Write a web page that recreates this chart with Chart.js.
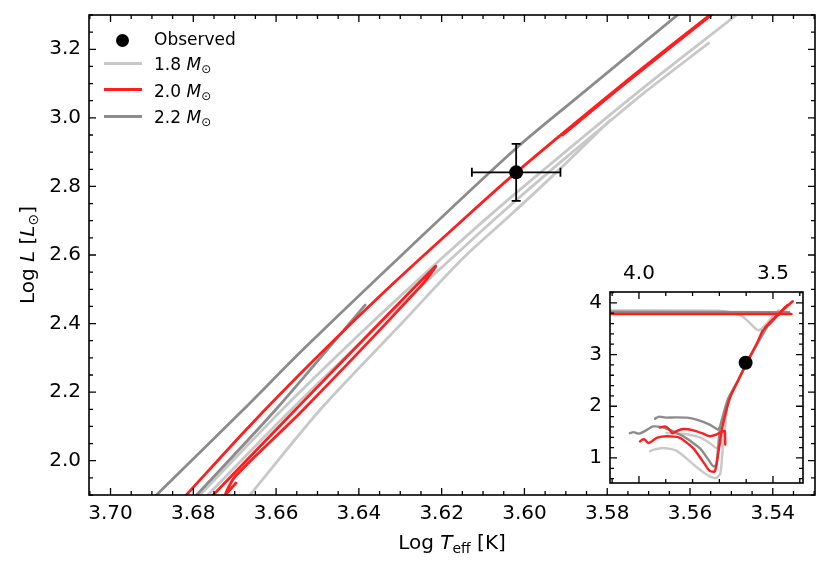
<!DOCTYPE html>
<html>
<head>
<meta charset="utf-8">
<title>HR diagram tracks</title>
<script src="https://cdn.jsdelivr.net/npm/chart.js@4.4.1/dist/chart.umd.min.js"></script>
<style>
  html, body { margin:0; padding:0; background:#fff; }
  #wrap { position:relative; width:830px; height:572px; overflow:hidden; font-family:"DejaVu Sans", sans-serif; color:#000; }
  #mainCanvas { position:absolute; left:0; top:0; }
  #insetHolder { position:absolute; left:560px; top:250px; width:260px; height:245px; }
  .txt { position:absolute; white-space:nowrap; line-height:20px; }
  .leg { font-size:17px; left:154px; }
  .sw { position:absolute; left:104px; width:38px; height:3px; }
  .dot { position:absolute; left:116px; top:33.5px; width:13px; height:13px; border-radius:50%; background:#000; }
  sub { font-size:0.7em; line-height:0; vertical-align:-0.25em; font-style:normal; }
  #xtitle { font-size:20px; left:89px; width:726px; text-align:center; top:532px; }
  #ytitle { font-size:20px; left:-213px; width:480px; text-align:center; top:245px; transform:rotate(-90deg); transform-origin:50% 50%; }
</style>
</head>
<body>
<div id="wrap">
  <canvas id="mainCanvas" width="830" height="572"></canvas>
  <div id="insetHolder"><canvas id="insetCanvas" width="260" height="245"></canvas></div>

  <div class="dot"></div>
  <div class="txt leg" style="top:29px;">Observed</div>
  <div class="sw" style="top:62px;background:#c8c8c8;"></div>
  <div class="txt leg" style="top:54px;">1.8 <i>M</i><sub>⊙</sub></div>
  <div class="sw" style="top:88px;background:#ff1e1e;"></div>
  <div class="txt leg" style="top:81px;">2.0 <i>M</i><sub>⊙</sub></div>
  <div class="sw" style="top:114.5px;background:#8c8c8c;"></div>
  <div class="txt leg" style="top:107px;">2.2 <i>M</i><sub>⊙</sub></div>

  <div id="xtitle" class="txt">Log <i>T</i><sub>eff</sub> [K]</div>
  <div id="ytitle" class="txt">Log <i>L</i> [<i>L</i><sub>⊙</sub>]</div>
</div>

<script>
// ---------------- data ----------------
const TEFF_TICKS = [3.70, 3.68, 3.66, 3.64, 3.62, 3.60, 3.58, 3.56, 3.54];
const TEFF_TICK_LABELS = ['3.70', '3.68', '3.66', '3.64', '3.62', '3.60', '3.58', '3.56', '3.54'];
const LUM_TICKS = [2.0, 2.2, 2.4, 2.6, 2.8, 3.0, 3.2];
const LUM_TICK_LABELS = ['2.0', '2.2', '2.4', '2.6', '2.8', '3.0', '3.2'];
const TEFF_RANGE = [3.5298, 3.7052];
const LUM_RANGE = [1.9, 3.3];

const INSET_TEFF_TICKS = [4.0, 3.5];
const INSET_TEFF_TICK_LABELS = ['4.0', '3.5'];
const INSET_LUM_TICKS = [1, 2, 3, 4];
const INSET_LUM_TICK_LABELS = ['1', '2', '3', '4'];
const INSET_TEFF_RANGE = [3.388, 4.108];
const INSET_LUM_RANGE = [0.516, 4.21];

const OBS_TEFF = 3.602;
const OBS_TEFF_ERR = 0.0107;
const OBS_LUM = 2.841;
const OBS_LUM_ERR = 0.083;

const SERIES_NAMES = ['Observed', '1.8 M⊙', '2.0 M⊙', '2.2 M⊙'];

// main panel, 1.8 Msun
const M18_A_TEFF = [3.6784, 3.6586, 3.6371, 3.6199, 3.6084, 3.5961, 3.5731, 3.5490];
const M18_A_LUM  = [1.90, 2.148, 2.40, 2.591, 2.715, 2.841, 3.07, 3.298];
const M18_B_TEFF = [3.6765, 3.6564, 3.6347, 3.6175, 3.6062, 3.5942, 3.5791, 3.5714, 3.5555];
const M18_B_LUM  = [1.90, 2.148, 2.40, 2.591, 2.715, 2.841, 2.993, 3.07, 3.218];
const M18_C_TEFF = [3.6663, 3.6494, 3.6297, 3.6148, 3.6035, 3.5923, 3.5793];
const M18_C_LUM  = [1.90, 2.148, 2.40, 2.591, 2.715, 2.841, 2.993];
// main panel, 2.0 Msun
const M20_A_TEFF = [3.6817, 3.6665, 3.6503, 3.6332, 3.6151, 3.6020, 3.5761, 3.5552];
const M20_A_LUM  = [1.90, 2.10, 2.30, 2.50, 2.70, 2.841, 3.10, 3.30];
const M20_B_TEFF = [3.6752, 3.6554, 3.6216, 3.6250, 3.6535, 3.6698, 3.6722, 3.6697];
const M20_B_LUM  = [1.90, 2.148, 2.566, 2.51, 2.148, 1.955, 1.902, 1.935];
const M20_D_TEFF = [3.5908, 3.5757, 3.5548];
const M20_D_LUM  = [2.95, 3.10, 3.30];
// main panel, 2.2 Msun
const M22_A_TEFF = [3.6889, 3.6680, 3.6530, 3.6284, 3.6026, 3.5881, 3.5630];
const M22_A_LUM  = [1.90, 2.148, 2.33, 2.614, 2.905, 3.051, 3.30];
const M22_B_TEFF = [3.6792, 3.6600, 3.6385];
const M22_B_LUM  = [1.90, 2.15, 2.454];

// inset, 1.8 Msun
const I18_LOW_TEFF = [3.959, 3.945, 3.910, 3.860, 3.810, 3.773, 3.736, 3.711, 3.696, 3.686, 3.680, 3.667, 3.630, 3.597, 3.549, 3.512, 3.480];
const I18_LOW_LUM  = [1.128, 1.16, 1.193, 1.141, 0.934, 0.774, 0.644, 0.613, 0.71, 1.26, 1.51, 2.13, 2.50, 2.85, 3.29, 3.61, 3.86];
const I18_UP_TEFF  = [3.897, 3.860, 3.822, 3.773, 3.736, 3.711, 3.696, 3.688];
const I18_UP_LUM   = [1.48, 1.47, 1.46, 1.40, 1.29, 1.19, 1.26, 1.50];
const I18_TOP_TEFF = [3.500, 3.530, 3.555, 3.575, 3.610, 3.660, 3.700, 4.200];
const I18_TOP_LUM  = [3.74, 3.56, 3.47, 3.55, 3.72, 3.82, 3.85, 3.85];
// inset, 2.0 Msun
const I20_LOW_TEFF = [3.996, 3.985, 3.977, 3.965, 3.950, 3.934, 3.897, 3.847, 3.798, 3.761, 3.736, 3.717, 3.705, 3.692, 3.680, 3.660, 3.630, 3.597, 3.560, 3.540];
const I20_LOW_LUM  = [1.32, 1.36, 1.35, 1.29, 1.33, 1.39, 1.42, 1.39, 1.19, 0.93, 0.75, 0.74, 1.06, 1.51, 1.80, 2.17, 2.50, 2.85, 3.22, 3.45];
const I20_TIP_TEFF = [3.540, 3.500, 3.530, 3.485, 3.515, 3.470, 3.500, 3.455, 3.490, 3.445, 3.470, 3.430, 3.455, 3.426];
const I20_TIP_LUM  = [3.45, 3.68, 3.52, 3.76, 3.58, 3.84, 3.66, 3.92, 3.72, 3.96, 3.82, 4.02, 3.90, 4.03];
const I20_TOP_TEFF = [3.431, 4.200];
const I20_TOP_LUM  = [3.785, 3.785];
const I20_UP_TEFF  = [3.922, 3.903, 3.888, 3.875, 3.860, 3.835, 3.800, 3.760, 3.736, 3.712, 3.690, 3.680, 3.678];
const I20_UP_LUM   = [1.59, 1.61, 1.56, 1.48, 1.52, 1.56, 1.54, 1.47, 1.42, 1.45, 1.51, 1.52, 1.26];
// inset, 2.2 Msun
const I22_UP_TEFF  = [3.940, 3.925, 3.900, 3.860, 3.820, 3.785, 3.736, 3.705, 3.698];
const I22_UP_LUM   = [1.76, 1.80, 1.78, 1.785, 1.78, 1.74, 1.645, 1.55, 1.60];
const I22_LOW_TEFF = [4.034, 4.020, 4.000, 3.975, 3.947, 3.910, 3.835, 3.773, 3.736, 3.723, 3.711, 3.698, 3.685, 3.667, 3.630, 3.597, 3.549, 3.512, 3.470, 3.440];
const I22_LOW_LUM  = [1.48, 1.50, 1.47, 1.53, 1.61, 1.59, 1.42, 1.19, 0.93, 0.84, 0.87, 1.58, 1.85, 2.15, 2.50, 2.85, 3.30, 3.62, 3.80, 3.82];
const I22_TOP_TEFF = [3.440, 4.200];
const I22_TOP_LUM  = [3.82, 3.83];

// ---------------- helpers ----------------
const C18 = '#c8c8c8', C20 = '#ff1e1e', C22 = '#8c8c8c';
const pts = (T, L) => T.map((t, i) => ({ x: t, y: L[i] }));
const track = (label, T, L, color, w, tension) => ({
  label, data: pts(T, L), showLine: true, borderColor: color, backgroundColor: color,
  borderWidth: w, pointRadius: 0, pointHoverRadius: 0, tension: tension, clip: 0,
  borderCapStyle: 'round', borderJoinStyle: 'round'
});
const obsSet = (r) => ({
  label: SERIES_NAMES[0], data: [{ x: OBS_TEFF, y: OBS_LUM }], showLine: false,
  pointRadius: r, pointBackgroundColor: '#000', pointBorderWidth: 0, backgroundColor: '#000', borderColor: '#000'
});

const frameTicks = {
  id: 'frameTicks',
  beforeDraw(chart, args, o) {
    if (!o.fillWhite) return;
    const { ctx, chartArea: a } = chart;
    ctx.save(); ctx.fillStyle = '#fff';
    ctx.fillRect(a.left, a.top, a.right - a.left, a.bottom - a.top);
    ctx.restore();
  },
  afterDatasetsDraw(chart, args, o) {
    const { ctx, chartArea: a } = chart;
    const xs = chart.scales.x, ys = chart.scales.y;
    ctx.save();
    ctx.strokeStyle = '#000';
    ctx.lineWidth = o.tickWidth;
    ctx.beginPath();
    const eachStep = (scale, step, cb) => {
      const lo = Math.min(scale.min, scale.max), hi = Math.max(scale.min, scale.max);
      const k0 = Math.ceil(lo / step - 1e-6), k1 = Math.floor(hi / step + 1e-6);
      for (let k = k0; k <= k1; k++) cb(scale.getPixelForValue(k * step));
    };
    const xt = len => p => { ctx.moveTo(p, a.bottom); ctx.lineTo(p, a.bottom - len); ctx.moveTo(p, a.top); ctx.lineTo(p, a.top + len); };
    const yt = len => p => { ctx.moveTo(a.left, p); ctx.lineTo(a.left + len, p); ctx.moveTo(a.right, p); ctx.lineTo(a.right - len, p); };
    eachStep(xs, o.xMinor, xt(o.minorLen));
    xs.ticks.forEach(t => xt(o.majorLen)(xs.getPixelForValue(t.value)));
    eachStep(ys, o.yMinor, yt(o.minorLen));
    ys.ticks.forEach(t => yt(o.majorLen)(ys.getPixelForValue(t.value)));
    ctx.stroke();
    ctx.lineWidth = o.frameWidth;
    ctx.strokeRect(a.left, a.top, a.right - a.left, a.bottom - a.top);
    ctx.restore();
  }
};

const errorBars = {
  id: 'errorBars',
  afterDatasetsDraw(chart, args, o) {
    if (!o.enabled) return;
    const { ctx } = chart;
    const xs = chart.scales.x, ys = chart.scales.y;
    const cx = xs.getPixelForValue(OBS_TEFF), cy = ys.getPixelForValue(OBS_LUM);
    const x1 = xs.getPixelForValue(OBS_TEFF + OBS_TEFF_ERR), x2 = xs.getPixelForValue(OBS_TEFF - OBS_TEFF_ERR);
    const y1 = ys.getPixelForValue(OBS_LUM + OBS_LUM_ERR), y2 = ys.getPixelForValue(OBS_LUM - OBS_LUM_ERR);
    const c = o.cap;
    ctx.save();
    ctx.strokeStyle = '#000'; ctx.lineWidth = o.width;
    ctx.beginPath();
    ctx.moveTo(x1, cy); ctx.lineTo(x2, cy);
    ctx.moveTo(cx, y1); ctx.lineTo(cx, y2);
    ctx.moveTo(x1, cy - c); ctx.lineTo(x1, cy + c);
    ctx.moveTo(x2, cy - c); ctx.lineTo(x2, cy + c);
    ctx.moveTo(cx - c, y1); ctx.lineTo(cx + c, y1);
    ctx.moveTo(cx - c, y2); ctx.lineTo(cx + c, y2);
    ctx.stroke();
    ctx.restore();
  }
};

const tickFont = { family: 'DejaVu Sans', size: 20 };

function axis(cfg) {
  return {
    type: 'linear', position: cfg.position, reverse: !!cfg.reverse,
    min: cfg.range[0], max: cfg.range[1],
    grid: { display: false, drawTicks: false }, border: { display: false },
    title: { display: false },
    ticks: { color: '#000', font: tickFont, padding: cfg.padding, autoSkip: false, maxRotation: 0,
             callback: (v, i) => cfg.labels[i] },
    afterBuildTicks: s => { s.ticks = cfg.ticks.map(v => ({ value: v })); },
    afterFit: s => {
      if (cfg.width !== undefined) s.width = cfg.width;
      if (cfg.height !== undefined) s.height = cfg.height;
      s.paddingTop = 0; s.paddingBottom = 0; s.paddingLeft = 0; s.paddingRight = 0;
    }
  };
}

// ---------------- main chart ----------------
new Chart(document.getElementById('mainCanvas'), {
  type: 'scatter',
  data: {
    datasets: [
      obsSet(7),
      track(SERIES_NAMES[2], M20_A_TEFF, M20_A_LUM, C20, 2.8, 0.3),
      track(SERIES_NAMES[2], M20_D_TEFF, M20_D_LUM, C20, 2.8, 0.3),
      track(SERIES_NAMES[2], M20_B_TEFF, M20_B_LUM, C20, 2.8, 0.3),
      track(SERIES_NAMES[3], M22_A_TEFF, M22_A_LUM, C22, 2.8, 0.3),
      track(SERIES_NAMES[3], M22_B_TEFF, M22_B_LUM, C22, 2.8, 0.3),
      track(SERIES_NAMES[1], M18_A_TEFF, M18_A_LUM, C18, 2.8, 0.3),
      track(SERIES_NAMES[1], M18_B_TEFF, M18_B_LUM, C18, 2.8, 0.3),
      track(SERIES_NAMES[1], M18_C_TEFF, M18_C_LUM, C18, 2.8, 0.3)
    ]
  },
  options: {
    responsive: false, animation: false, events: [],
    layout: { padding: { top: 15, right: 15, left: 0, bottom: 0 } },
    scales: {
      x: axis({ position: 'bottom', reverse: true, range: TEFF_RANGE, ticks: TEFF_TICKS, labels: TEFF_TICK_LABELS, padding: 7, height: 77 }),
      y: axis({ position: 'left', range: LUM_RANGE, ticks: LUM_TICKS, labels: LUM_TICK_LABELS, padding: 8, width: 89 })
    },
    plugins: {
      legend: { display: false }, tooltip: { enabled: false },
      frameTicks: { xMinor: 0.005, yMinor: 0.05, majorLen: 7, minorLen: 4, tickWidth: 1.3, frameWidth: 1.6, fillWhite: false },
      errorBars: { enabled: true, width: 1.8, cap: 4.5 }
    }
  },
  plugins: [frameTicks, errorBars]
});

// ---------------- inset chart ----------------
new Chart(document.getElementById('insetCanvas'), {
  type: 'scatter',
  data: {
    datasets: [
      obsSet(7),
      track(SERIES_NAMES[2], I20_TIP_TEFF, I20_TIP_LUM, C20, 2.4, 0),
      track(SERIES_NAMES[2], I20_TOP_TEFF, I20_TOP_LUM, C20, 2.4, 0),
      track(SERIES_NAMES[2], I20_LOW_TEFF, I20_LOW_LUM, C20, 2.4, 0.2),
      track(SERIES_NAMES[2], I20_UP_TEFF, I20_UP_LUM, C20, 2.4, 0.2),
      track(SERIES_NAMES[3], I22_LOW_TEFF, I22_LOW_LUM, C22, 2.4, 0.2),
      track(SERIES_NAMES[3], I22_UP_TEFF, I22_UP_LUM, C22, 2.4, 0.2),
      track(SERIES_NAMES[3], I22_TOP_TEFF, I22_TOP_LUM, C22, 2.4, 0),
      track(SERIES_NAMES[1], I18_LOW_TEFF, I18_LOW_LUM, C18, 2.4, 0.2),
      track(SERIES_NAMES[1], I18_UP_TEFF, I18_UP_LUM, C18, 2.4, 0.2),
      track(SERIES_NAMES[1], I18_TOP_TEFF, I18_TOP_LUM, C18, 2.4, 0.2)
    ]
  },
  options: {
    responsive: false, animation: false, events: [],
    layout: { padding: { top: 0, right: 17, left: 0, bottom: 12 } },
    scales: {
      x: axis({ position: 'top', reverse: true, range: INSET_TEFF_RANGE, ticks: INSET_TEFF_TICKS, labels: INSET_TEFF_TICK_LABELS, padding: 6, height: 42 }),
      y: axis({ position: 'left', range: INSET_LUM_RANGE, ticks: INSET_LUM_TICKS, labels: INSET_LUM_TICK_LABELS, padding: 8, width: 50 })
    },
    plugins: {
      legend: { display: false }, tooltip: { enabled: false },
      frameTicks: { xMinor: 0.1, yMinor: 0.2, majorLen: 7, minorLen: 4, tickWidth: 1.3, frameWidth: 1.6, fillWhite: true },
      errorBars: { enabled: false }
    }
  },
  plugins: [frameTicks, errorBars]
});
</script>
</body>
</html>
